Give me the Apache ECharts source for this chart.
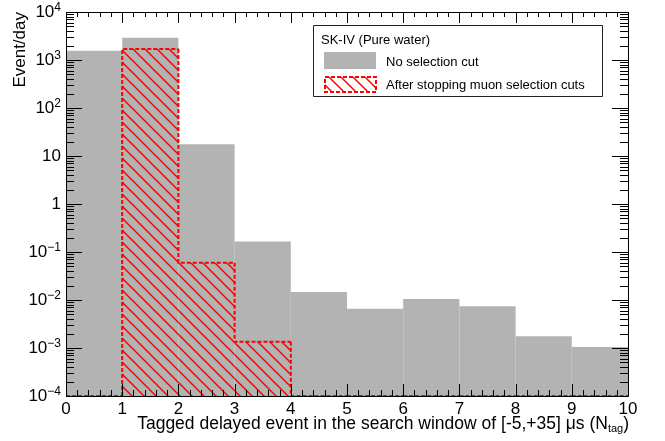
<!DOCTYPE html>
<html>
<head>
<meta charset="utf-8">
<script src="https://cdn.jsdelivr.net/npm/echarts@6/dist/echarts.min.js"></script>
<style>
html,body{margin:0;padding:0;background:#fff;}
#main{width:665px;height:441px;}
</style>
</head>
<body>
<div id="main"></div>
<script>
// ---- data ----
const xEdges = [0, 1, 2, 3, 4, 5, 6, 7, 8, 9, 10];
const noCut = [1560, 2920, 17.5, 0.165, 0.0147, 0.0066, 0.0105, 0.0074, 0.00175, 0.00105];
const afterCut = [0, 1690, 0.060, 0.00135, 0, 0, 0, 0, 0, 0];
const xTickLabels = ['0', '1', '2', '3', '4', '5', '6', '7', '8', '9', '10'];
const yTickLabels = ['10^{−4}', '10^{−3}', '10^{−2}', '10^{−1}', '1', '10', '10^{2}', '10^{3}', '10^{4}'];
const seriesNames = ['No selection cut', 'After stopping muon selection cuts'];
const legendTitle = 'SK-IV (Pure water)';
const yMin = 1e-4, yMax = 1e4;

const FONT = '"Liberation Sans", Arial, Helvetica, sans-serif';
const GREY = '#b3b3b3';
const RED = '#ff0000';

function hatchCanvas() {
  const s = 12;
  const c = document.createElement('canvas');
  c.width = s; c.height = s;
  const g = c.getContext('2d');
  g.strokeStyle = RED;
  g.lineWidth = 1.5;
  for (const o of [-s, 0, s]) {
    g.beginPath();
    g.moveTo(o - 1, -1);
    g.lineTo(o + s + 1, s + 1);
    g.stroke();
  }
  return c;
}
const hatch = { image: hatchCanvas(), repeat: 'repeat' };

function richLabel(s) {
  const m = /^(\d+)\^\{(.+)\}$/.exec(s);
  if (m) return '{b|' + m[1] + '}{s|' + m[2] + '}';
  return '{b|' + s + '}';
}

const chart = echarts.init(document.getElementById('main'), null, { renderer: 'canvas' });

const greyData = noCut.map((v, i) => [xEdges[i], xEdges[i + 1], v]);
const hatchData = afterCut.map((v, i) => [xEdges[i], xEdges[i + 1], v]).filter(d => d[2] > 0);
const lvl = v => (v > 0 ? v : yMin);
const outlineData = afterCut.map((v, i) => [xEdges[i], xEdges[i + 1], lvl(v), i > 0 ? lvl(afterCut[i - 1]) : yMin, i === afterCut.length - 1 ? 1 : 0]);

function rectItem(api, fill) {
  const p1 = api.coord([api.value(0), api.value(2)]);
  const p2 = api.coord([api.value(1), yMin]);
  return {
    type: 'rect',
    shape: { x: p1[0], y: p1[1], width: p2[0] - p1[0], height: p2[1] - p1[1] },
    style: { fill: fill }
  };
}

function ticksItem(params, api) {
  const children = [];
  const L = api.coord([0, yMin])[0], R = api.coord([10, yMin])[0];
  const B = api.coord([0, yMin])[1], T = api.coord([0, yMax])[1];
  const line = (x1, y1, x2, y2) => children.push({
    type: 'line', shape: { x1, y1, x2, y2 }, style: { stroke: '#000', lineWidth: 1 }
  });
  // x ticks
  for (let k = 0; k <= 50; k++) {
    const xv = k / 5;
    const x = Math.round(api.coord([xv, yMin])[0]) + 0.5;
    const major = k % 5 === 0;
    line(x, B, x, B - (major ? 12 : 6));
    line(x, T, x, T + (major ? 11 : 5));
  }
  // y ticks
  for (let e = -4; e <= 4; e++) {
    for (let m = 1; m <= 9; m++) {
      const v = m * Math.pow(10, e);
      if (v > yMax * 1.0001) break;
      const y = Math.round(api.coord([0, v])[1]) + 0.5;
      const len = m === 1 ? 16 : 8;
      line(L, y, L + len, y);
      line(R, y, R - len, y);
    }
  }
  // frame
  const l = Math.round(L) + 0.5, r = Math.round(R) + 0.5, t = Math.round(T) + 0.5, b = Math.round(B) + 0.5;
  line(l, t, r, t); line(r, t, r, b); line(r, b, l, b); line(l, b, l, t);
  return { type: 'group', children };
}

const option = {
  backgroundColor: '#fff',
  animation: false,
  grid: { left: 66, right: 37, top: 12, bottom: 45, show: false },
  xAxis: {
    type: 'value', min: 0, max: 10, interval: 1,
    axisLine: { show: false }, axisTick: { show: false }, splitLine: { show: false },
    axisLabel: {
      margin: 5, fontSize: 17, color: '#000', fontFamily: FONT,
      formatter: v => xTickLabels[Math.round(v)]
    }
  },
  yAxis: {
    type: 'log', logBase: 10, min: yMin, max: yMax, splitNumber: 8,
    axisLine: { show: false }, axisTick: { show: false }, splitLine: { show: false },
    axisLabel: {
      margin: 5, color: '#000', fontFamily: FONT,
      formatter: v => richLabel(yTickLabels[Math.round(Math.log10(v)) + 4] || ''),
      rich: {
        b: { fontSize: 17, fontFamily: FONT, color: '#000', lineHeight: 20 },
        s: { fontSize: 12, fontFamily: FONT, color: '#000', lineHeight: 12, verticalAlign: 'top' }
      }
    }
  },
  series: [
    {
      type: 'custom', name: seriesNames[0], z: 2,
      encode: { x: [0, 1], y: 2 },
      data: greyData,
      renderItem: (p, api) => rectItem(api, GREY)
    },
    {
      type: 'custom', name: seriesNames[1] + ' fill', z: 3,
      encode: { x: [0, 1], y: 2 },
      data: hatchData,
      renderItem: (p, api) => rectItem(api, hatch)
    },
    {
      type: 'custom', name: seriesNames[1], z: 4,
      encode: { x: [0, 1], y: 2 },
      data: outlineData,
      renderItem: (p, api) => {
        const lo = api.value(0), hi = api.value(1), h = api.value(2), prev = api.value(3), last = api.value(4);
        const pts = [api.coord([lo, prev]), api.coord([lo, h]), api.coord([hi, h])];
        if (last) pts.push(api.coord([hi, yMin]));
        return {
          type: 'polyline', shape: { points: pts },
          style: { stroke: RED, lineWidth: 2, lineDash: [4, 2], fill: null }
        };
      }
    },
    {
      type: 'custom', name: 'axes', z: 10, silent: true,
      data: [[0, 1]],
      encode: { x: 0, y: 1 },
      renderItem: ticksItem
    }
  ],
  graphic: [
    {
      type: 'text', x: 629, y: 424,
      style: {
        text: '{t|Tagged delayed event in the search window of [-5,+35] μs (N}{sub|tag}{t|)}',
        align: 'right', verticalAlign: 'middle',
        rich: {
          t: { fontSize: 17.5, fontFamily: FONT, fill: '#000', lineHeight: 20 },
          sub: { fontSize: 11, fontFamily: FONT, fill: '#000', lineHeight: 8, verticalAlign: 'bottom', padding: [12, 0, 0, 0] }
        }
      }
    },
    {
      type: 'text', x: 20, y: 12, rotation: Math.PI / 2,
      style: { text: 'Event/day', fontSize: 17, fontFamily: FONT, fill: '#000', align: 'right', verticalAlign: 'middle' }
    },
    {
      type: 'group', left: 313, top: 25,
      children: [
        { type: 'rect', shape: { x: 0.5, y: 0.5, width: 289, height: 71 }, style: { fill: '#fff', stroke: '#222', lineWidth: 1 } },
        { type: 'text', x: 8, y: 15, style: { text: legendTitle, fontSize: 13, fontFamily: FONT, fill: '#000', verticalAlign: 'middle' } },
        { type: 'rect', shape: { x: 11, y: 27, width: 52, height: 17 }, style: { fill: GREY } },
        { type: 'text', x: 73, y: 37, style: { text: seriesNames[0], fontSize: 13, fontFamily: FONT, fill: '#000', verticalAlign: 'middle' } },
        { type: 'rect', shape: { x: 12, y: 52, width: 51, height: 15 }, style: { fill: hatch, stroke: RED, lineWidth: 2, lineDash: [4, 2] } },
        { type: 'text', x: 73, y: 60, style: { text: seriesNames[1], fontSize: 13, fontFamily: FONT, fill: '#000', verticalAlign: 'middle' } }
      ]
    }
  ]
};
chart.setOption(option);
</script>
</body>
</html>
